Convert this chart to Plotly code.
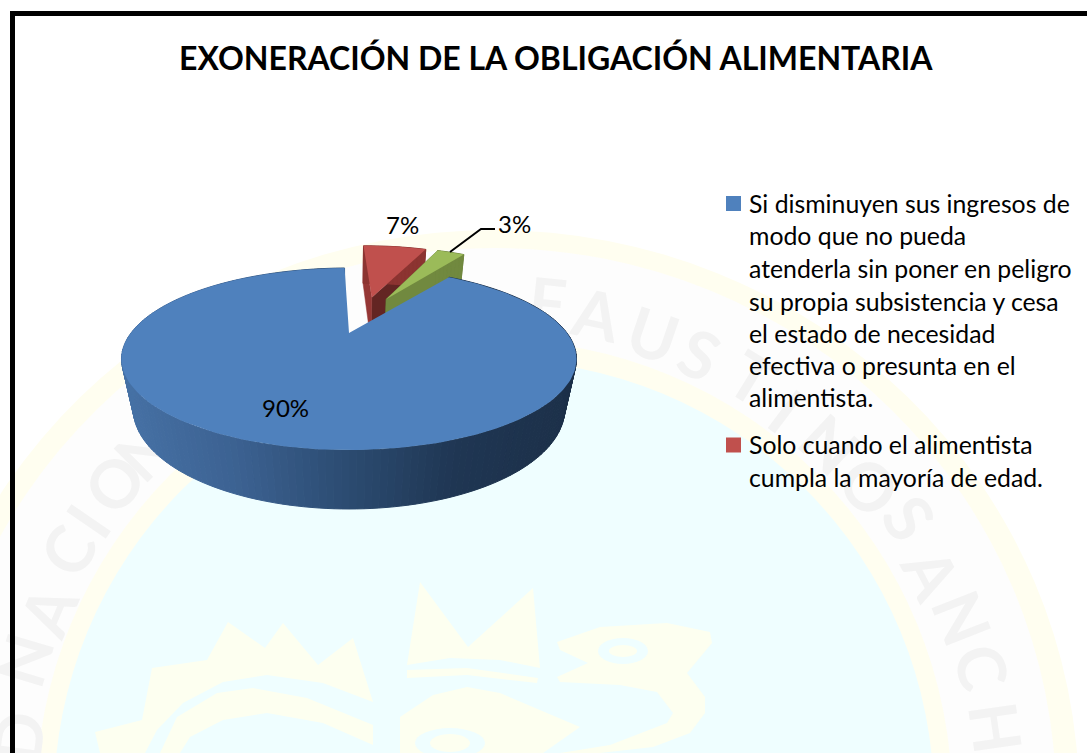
import math
import plotly.graph_objects as go

# ---- data ----
TITLE = "EXONERACIÓN DE LA OBLIGACIÓN ALIMENTARIA"
values = [90, 7, 3]
first_angle = 34.5      # degrees clockwise from the back of the pie
explode = 0.25
top_colors = ["#4F81BD", "#C0504D", "#9BBB59"]
left_cut_colors = ["#2C4D75", "#632523", "#4F6228"]
right_cut_colors = ["#2C4D75", "#953735", "#71893F"]
wall_colors = ["#1D3049", "#8C3431", "#71893F"]
legend_entries = [
    ["Si disminuyen sus ingresos de", "modo que no pueda", "atenderla sin poner en peligro",
     "su propia subsistencia y cesa", "el estado de necesidad",
     "efectiva o presunta en el", "alimentista."],
    ["Solo cuando el alimentista", "cumpla la mayoría de edad."],
]
watermark_letters = [
    ("D", 17, 737), ("N", 23, 660), ("A", 47, 610), ("C", 67, 550), ("I", 87, 520),
    ("O", 113, 483), ("N", 143, 450),
    ("F", 547, 300), ("A", 597, 313), ("U", 653, 333), ("S", 700, 353), ("T", 753, 377),
    ("I", 787, 410), ("N", 830, 443), ("O", 870, 485),
    ("S", 910, 517), ("A", 933, 573), ("N", 963, 617), ("C", 983, 667), ("H", 997, 727),
]

# ---- perspective projection of the pie ----
AX, AY = 349.0, 333.0
BX, BY, K, M, DEPTH = 218.0, 83.6, 0.2857, 0.05, 50.9


def project(u, v, z):
    w = 1 + K * v + M * z
    return AX + BX * u / w, AY + (DEPTH * z - BY * v) / w


def direction(deg):
    r = math.radians(deg)
    return math.sin(r), math.cos(r)


def mix(stops, t):
    t = max(0.0, min(1.0, t)) * (len(stops) - 1)
    i = min(int(t), len(stops) - 2)
    f = t - i
    c = [round(stops[i][k] + (stops[i + 1][k] - stops[i][k]) * f) for k in range(3)]
    return "rgb(%d,%d,%d)" % tuple(c)


BLUE_WALL = [(70, 113, 165), (60, 98, 146), (44, 76, 114), (31, 54, 83), (28, 48, 73)]

fig = go.Figure()


def poly(points, color, line=0):
    fig.add_trace(go.Scatter(
        x=[p[0] for p in points] + [points[0][0]],
        y=[p[1] for p in points] + [points[0][1]],
        mode="lines", fill="toself", fillcolor=color,
        line=dict(color=color, width=line),
        hoverinfo="skip", showlegend=False))


total = sum(values)
spans, a = [], first_angle
for v in values:
    spans.append((a, a + 360.0 * v / total))
    a += 360.0 * v / total
mid = [direction((s + e) / 2) for s, e in spans]


def slice_faces(i):
    s, e = spans[i]
    ox = explode * (mid[i][0] - mid[0][0])
    oy = explode * (mid[i][1] - mid[0][1])
    n = max(6, int((e - s) / 1.5))
    angs = [s + (e - s) * j / n for j in range(n + 1)]
    shrink = 1.0 if i == 0 else 0.93
    rim = [(ox + shrink * direction(t)[0], oy + direction(t)[1]) for t in angs]
    apex = (ox, oy)
    if i != 0:
        a0, b0 = rim[-1], rim[0]
        poly([project(*apex, 0), project(*a0, 0), project(*a0, 1), project(*apex, 1)], left_cut_colors[i], 0.5)
        poly([project(*apex, 0), project(*b0, 0), project(*b0, 1), project(*apex, 1)], right_cut_colors[i], 0.5)
    for j in range(n):
        q = [project(*rim[j], 0), project(*rim[j + 1], 0), project(*rim[j + 1], 1), project(*rim[j], 1)]
        if i == 0:
            col = mix(BLUE_WALL, (q[0][0] - 120) / 455)
        else:
            col = wall_colors[i]
        poly(q, col, 1)
    poly([project(*apex, 0)] + [project(*p, 0) for p in rim], top_colors[i])


for idx in (1, 2, 0):
    slice_faces(idx)

# leader line of the smallest slice
fig.add_trace(go.Scatter(x=[450, 481, 495], y=[252, 229, 229], mode="lines",
                         line=dict(color="black", width=2), hoverinfo="skip", showlegend=False))

# legend swatches
fig.add_trace(go.Scatter(x=[733.5, 733.5], y=[203.5, 445], mode="markers",
                         marker=dict(symbol="square", size=15, color=top_colors[:2]),
                         hoverinfo="skip", showlegend=False))

FONT = "Lato, Carlito, Calibri, sans-serif"
ann = []


def text(x, y, s, size, anchor="left", color="black", angle=0, bold=False):
    ann.append(dict(x=x, y=y, xref="x", yref="y", text=f"<b>{s}</b>" if bold else s,
                    showarrow=False, xanchor=anchor, yanchor="middle", textangle=angle,
                    font=dict(family=FONT, size=size, color=color)))


# watermark letters follow the seal's circle, so each one turns with its place on it
SEAL_X, SEAL_Y = 494, 800
for ch, x, y in watermark_letters:
    rot = math.degrees(math.atan2(x - SEAL_X, SEAL_Y - y))
    text(x, y, ch, 66, "center", "#F3F3F3", rot, bold=True)
N_WATERMARK = len(ann)

text(556, 57, TITLE, 32, "center", "black", bold=True)
text(402, 224, f"{values[1]}%", 24, "center")
text(514, 223, f"{values[2]}%", 24, "center")
text(285, 407, f"{values[0]}%", 24, "center")

line_y = [[203, 235, 268, 301, 333, 365, 397], [444, 477]]
for lines, ys in zip(legend_entries, line_y):
    for s, y in zip(lines, ys):
        text(747, y, s, 24.8)


# ---- pale watermark behind the chart ----
def disc(rx, ry, color):
    return dict(type="circle", xref="x", yref="y", x0=SEAL_X - rx, x1=SEAL_X + rx,
                y0=SEAL_Y - ry, y1=SEAL_Y + ry, fillcolor=color, line=dict(width=0), layer="below")


def oval(cx, cy, rx, ry, color):
    return dict(type="circle", xref="x", yref="y", x0=cx - rx, x1=cx + rx, y0=cy - ry, y1=cy + ry,
                fillcolor=color, line=dict(width=0), layer="below")


CYAN = "#EFFEFF"
EMBLEM = "#FDFFF0"
RING = "#FFFEF0"


def path(pts, color=EMBLEM):
    d = "M " + " L ".join(f"{x},{y}" for x, y in pts) + " Z"
    return dict(type="path", path=d, xref="x", yref="y", fillcolor=color,
                line=dict(width=0), layer="below")


shapes = [
    disc(585, 570, RING), disc(562, 552, "#FDFDFD"), disc(458, 460, RING), disc(440, 440, CYAN),
    # sun
    path([(95, 732), (142, 720), (152, 668), (207, 660), (228, 622), (265, 648), (283, 623), (318, 665),
          (353, 638), (373, 702), (323, 683), (267, 675), (223, 682), (183, 703), (157, 730), (145, 753), (100, 753)]),
    path([(373, 725), (373, 745), (323, 723), (267, 713), (223, 720), (190, 737), (180, 753), (160, 753),
          (177, 717), (217, 693), (253, 688), (307, 698)]),
    # crown
    path([(407, 665), (420, 582), (468, 647), (533, 588), (540, 668), (500, 660), (450, 658)]),
    path([(407, 670), (407, 678), (467, 675), (537, 683), (538, 678), (467, 668)]),
    # body and its eye
    path([(400, 717), (433, 695), (467, 687), (500, 693), (580, 727), (543, 753), (400, 753)]),
    oval(450, 743, 35, 15, CYAN), oval(450, 743, 20, 9, EMBLEM),
    # head and its eye
    path([(557, 642), (600, 627), (667, 623), (710, 632), (712, 643), (687, 673), (705, 697), (705, 713),
          (690, 733), (653, 747), (600, 753), (560, 753), (610, 745), (667, 723), (673, 713), (657, 692),
          (620, 685), (560, 682), (557, 677), (588, 663), (560, 650)]),
    oval(623, 651, 25, 13, CYAN), oval(623, 651, 14, 6, EMBLEM),
    # black frame
    dict(type="path", path="M 12.5,753 L 12.5,13.5 L 1087,13.5", xref="x", yref="y",
         line=dict(color="black", width=5), layer="above"),
]

fig.update_layout(
    width=1087, height=753, margin=dict(l=0, r=0, t=0, b=0),
    paper_bgcolor="white", plot_bgcolor="white",
    xaxis=dict(range=[0, 1087], visible=False, fixedrange=True),
    yaxis=dict(range=[753, 0], visible=False, fixedrange=True),
    shapes=shapes, annotations=ann, showlegend=False,
)
# plotly draws annotations over traces; the watermark letters belong behind the pie
post = """
document.body.style.margin='0';document.body.style.overflow='hidden';
function moveWatermark(){
  var low=document.querySelector('.layer-subplot .shapelayer');
  if(!low)return;
  document.querySelectorAll('.infolayer .annotation').forEach(function(g){
    if(+g.getAttribute('data-index')<%d){low.appendChild(g);}
  });
}
moveWatermark();setTimeout(moveWatermark,50);
""" % N_WATERMARK
fig.write_html("out.html", config=dict(displayModeBar=False), post_script=post)
